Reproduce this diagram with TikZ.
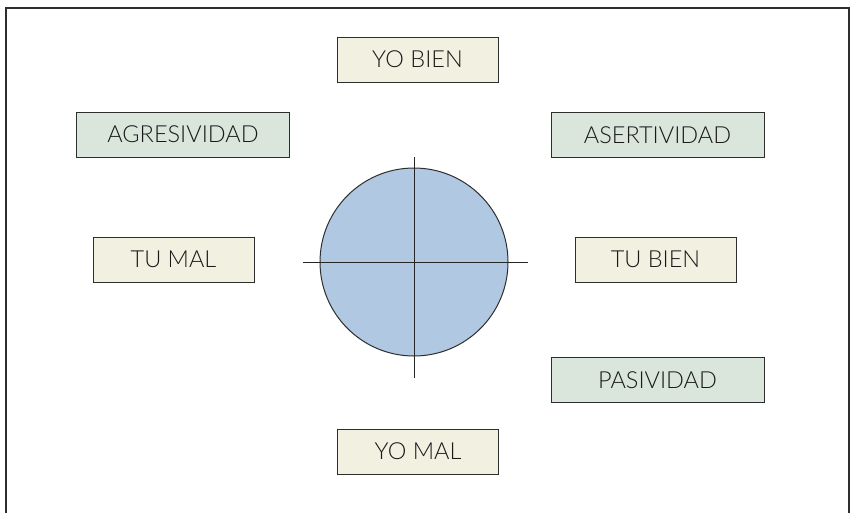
\documentclass[tikz,border=0pt]{standalone}
\usepackage{fontspec}
\setmainfont{Lato}[UprightFont=* Light]
\definecolor{cream}{HTML}{F2F0E1}
\definecolor{sage}{HTML}{DAE6DC}
\definecolor{disc}{HTML}{B0C8E2}
\definecolor{edge}{HTML}{2E2E2E}
\begin{document}
\begin{tikzpicture}[x=1pt,y=-1pt,
  box/.style={draw=edge,line width=1pt,minimum height=45pt,inner sep=0pt,
    font=\fontsize{23.5}{26}\selectfont,text=black!90},
  yobox/.style={box,fill=cream,minimum width=161pt},
  actbox/.style={box,fill=sage,minimum width=213pt},
  axis/.style={draw=black!85,line width=1pt}]
\useasboundingbox (0,0) rectangle (851,512);
\draw[line width=2.5pt,edge] (6,514) -- (6,8) -- (849,8) -- (849,514);
\node[yobox] (yobien) at (417.5,59.5) {YO BIEN};
\node[actbox] (agres) at (183,134.5) {AGRESIVIDAD};
\node[actbox] (asert) at (657.5,135) {ASERTIVIDAD};
\node[yobox] (tumal) at (173.5,259.5) {TU MAL};
\node[yobox] (tubien) at (655.5,259.5) {TU BIEN};
\node[actbox] (pasiv) at (657.5,380) {PASIVIDAD};
\node[yobox] (yomal) at (418,451.5) {YO MAL};
\node[circle,draw=edge,line width=1pt,fill=disc,minimum size=188pt,inner sep=0pt] (c) at (414,262) {};
\coordinate (hl) at (303,262);
\coordinate (hr) at (528,262);
\coordinate (vt) at (414,157);
\coordinate (vb) at (414,378);
\draw[axis] (hl) -- (hr);
\draw[axis] (vt) -- (vb);
\end{tikzpicture}
\end{document}
